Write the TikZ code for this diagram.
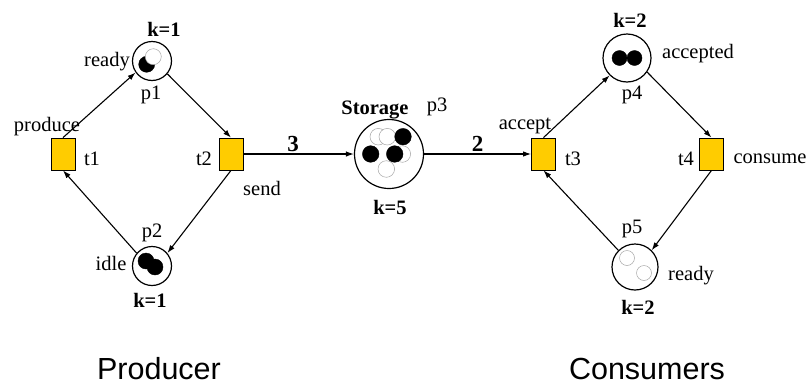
\documentclass[tikz,border=0pt]{standalone}
\usepackage{fontspec}
\setmainfont{Liberation Serif}
\setsansfont{Liberation Sans}
\usepackage{tikz}
\usetikzlibrary{calc,arrows.meta}

\definecolor{transyellow}{HTML}{FFCC00}

\tikzset{
    place/.style = {draw, circle, line width=1.2pt, inner sep=0pt},
    trans/.style = {draw, fill=transyellow, line width=0.8pt, minimum width=24pt, minimum height=32pt, inner sep=0pt},
    lbl/.style = {inner sep=0pt, font=\fontsize{20.5}{24}\selectfont},
    boldlbl/.style = {inner sep=0pt, font=\fontsize{20.5}{24}\selectfont\bfseries},
    weight/.style = {inner sep=0pt, font=\fontsize{23}{26}\selectfont\bfseries},
    grp/.style = {inner sep=0pt, anchor=base, font=\fontsize{30.5}{36}\selectfont\sffamily},
    arc/.style = {line width=1.1pt, -{Latex[length=8pt,width=5.5pt]}},
    tokfull/.style = {fill=black, draw=black},
    tokempty/.style = {draw=black!35, line width=0.5pt, fill=white}
}

\begin{document}
\begin{tikzpicture}[x=1pt, y=-1pt]
            \useasboundingbox (0, 0) rectangle (811, 386);
            % producer side
            \node[place, minimum size=39pt] (p1) at (152, 61) {};
            \node[place, minimum size=39pt] (p2) at (152, 266) {};
            \node[trans] (t1) at (63, 154) {};
            \node[trans] (t2) at (231, 154) {};
            % storage
            \node[place, minimum size=69pt] (p3) at (389, 154) {};
            % consumer side
            \node[place, minimum size=48pt] (p4) at (627, 58) {};
            \node[place, minimum size=46pt] (p5) at (635, 267) {};
            \node[trans] (t3) at (543.5, 154) {};
            \node[trans] (t4) at (711.5, 154) {};

            % tokens
            \filldraw[tokfull] ([shift={(-5.3, 3.3)}]p1) circle (8);
            \filldraw[tokempty] ([shift={(1.3, -4.3)}]p1) circle (8);
            \filldraw[tokfull] ([shift={(-6, -5)}]p2) circle (8);
            \filldraw[tokfull] ([shift={(3, 1)}]p2) circle (8);
            \filldraw[tokempty] ([shift={(-10.7, -17.3)}]p3) circle (8.3);
            \filldraw[tokempty] ([shift={(-1.7, -17.3)}]p3) circle (8.3);
            \filldraw[tokempty] ([shift={(13.3, 0)}]p3) circle (8.3);
            \filldraw[tokempty] ([shift={(-2.7, 15)}]p3) circle (8.3);
            \filldraw[tokfull] ([shift={(-18.3, 0)}]p3) circle (8.3);
            \filldraw[tokfull] ([shift={(5.7, 0)}]p3) circle (8.3);
            \filldraw[tokfull] ([shift={(14, -17.3)}]p3) circle (8.3);
            \filldraw[tokfull] ([shift={(-7.5, 0)}]p4) circle (7.5);
            \filldraw[tokfull] ([shift={(7.5, 0)}]p4) circle (7.5);
            \filldraw[tokempty] ([shift={(-8, -9)}]p5) circle (7.5);
            \filldraw[tokempty] ([shift={(9, 6)}]p5) circle (7.5);

            % arcs
            \draw[arc] (t1.north) -- (p1.215);
            \draw[arc] (p1.-40) -- (t2.north);
            \draw[arc] (t2.south) -- (p2.40);
            \draw[arc] (p2.140) -- (t1.south);
            \draw[arc] (t2.east) -- (p3.west) node[pos=0.45, above=2pt, weight] (w3) {3};
            \draw[arc] (p3.east) -- (t3.west) node[pos=0.5, above=2pt, weight] (w2) {2};
            \draw[arc] (t3.north) -- (p4.225);
            \draw[arc] (p4.-35) -- (t4.north);
            \draw[arc] (t4.south) -- (p5.45);
            \draw[arc] (p5.135) -- (t3.south);

            % labels
            \node[boldlbl] (k1) at (164, 29) {k=1};
            \node[lbl] (ready1) at (107, 62) {ready};
            \node[lbl] (lp1) at (151, 95) {p1};
            \node[lbl] (produce) at (47, 127) {produce};
            \node[lbl] (lt1) at (92, 159) {t1};
            \node[lbl] (lt2) at (204, 159) {t2};
            \node[lbl] (send) at (262, 188) {send};
            \node[lbl] (lp2) at (152, 233) {p2};
            \node[lbl] (idle) at (111, 263) {idle};
            \node[boldlbl] (k1b) at (150, 300) {k=1};
            \node[boldlbl] (storage) at (375, 110) {Storage};
            \node[lbl] (lp3) at (437, 107) {p3};
            \node[boldlbl] (k5) at (390, 207) {k=5};
            \node[lbl] (accept) at (525, 126) {accept};
            \node[lbl] (lt3) at (573, 159) {t3};
            \node[boldlbl] (k2) at (630, 20) {k=2};
            \node[lbl] (accepted) at (698, 54) {accepted};
            \node[lbl] (lp4) at (632, 95) {p4};
            \node[lbl] (lt4) at (686, 159) {t4};
            \node[lbl] (consume) at (770, 159) {consume};
            \node[lbl] (lp5) at (632, 229) {p5};
            \node[lbl] (ready2) at (691, 276) {ready};
            \node[boldlbl] (k2b) at (638, 307) {k=2};
            \node[grp] (producer) at (159, 379) {Producer};
            \node[grp] (consumers) at (647, 379) {Consumers};
\end{tikzpicture}
\end{document}
